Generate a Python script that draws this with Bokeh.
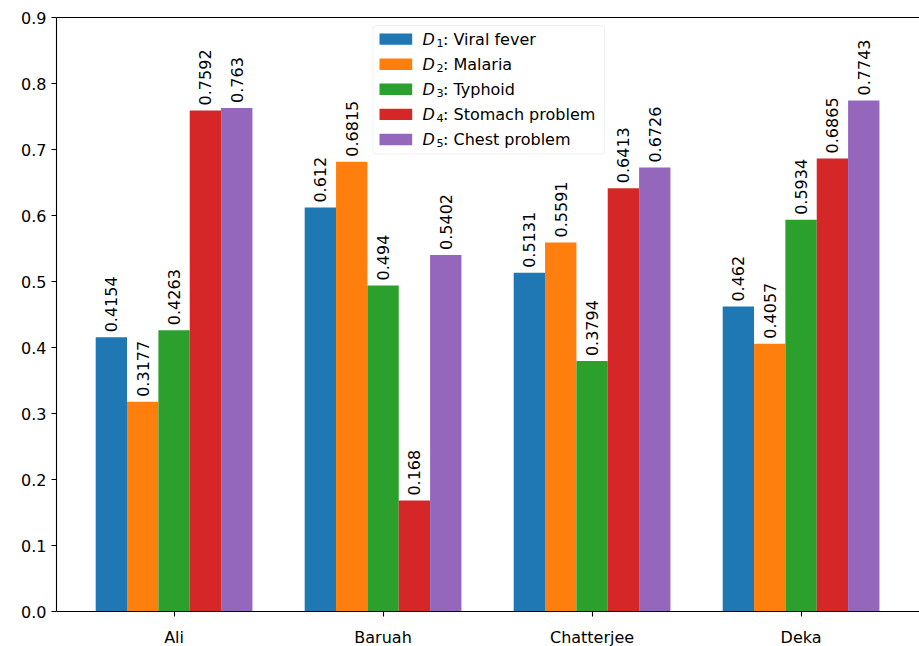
import numpy as np
from bokeh.plotting import figure
from bokeh.models import (ColumnDataSource, FixedTicker, Range1d, Label, BoxAnnotation,
                          PrintfTickFormatter, LinearAxis)
from bokeh.core.properties import value
from bokeh.embed import file_html
from bokeh.resources import INLINE

# ---------------- data ----------------
people = ["Ali", "Baruah", "Chatterjee", "Deka"]
disease_ids = ["1", "2", "3", "4", "5"]
disease_names = ["Viral fever", "Malaria", "Typhoid", "Stomach problem", "Chest problem"]
viral_fever = [0.4154, 0.612, 0.5131, 0.462]
malaria = [0.3177, 0.6815, 0.5591, 0.4057]
typhoid = [0.4263, 0.494, 0.3794, 0.5934]
stomach_problem = [0.7592, 0.168, 0.6413, 0.6865]
chest_problem = [0.763, 0.5402, 0.6726, 0.7743]
y_ticks = [0.0, 0.1, 0.2, 0.3, 0.4, 0.5, 0.6, 0.7, 0.8, 0.9]

series = [viral_fever, malaria, typhoid, stomach_problem, chest_problem]
colors = ["#1f77b4", "#ff7f0e", "#2ca02c", "#d62728", "#9467bd"]

FONT = "DejaVu Sans"
FS = "16px"

FL, FT, FW, FH = 56, 17, 863, 594
X0 = -0.5625
PPX = 209.0
X1 = X0 + FW / PPX

p = figure(frame_width=FW, frame_height=FH, output_backend="svg", toolbar_location=None,
           x_range=Range1d(X0, X1), y_range=Range1d(0, 0.9),
           min_border_left=FL, min_border_top=FT, min_border_right=0, min_border_bottom=35,
           background_fill_color="white", border_fill_color="white")
p.outline_line_color = None
p.xgrid.visible = False
p.ygrid.visible = False

bw = 0.15
group_x = np.arange(len(people))
for k, (vals, col) in enumerate(zip(series, colors)):
    xs = group_x + (k - 2) * bw
    src = ColumnDataSource(dict(x=xs, top=vals, txt=[str(v) for v in vals]))
    p.vbar(x="x", top="top", width=bw, source=src, fill_color=col, line_color=None)
    p.text(x="x", y="top", text="txt", source=src, angle=np.pi / 2,
           text_align="left", text_baseline="middle", y_offset=-5,
           text_font=value(FONT), text_font_size=FS, text_color="black")

# axes
for ax in (p.xaxis[0], p.yaxis[0]):
    ax.axis_line_color = "black"
    ax.axis_line_width = 1.1
    ax.major_tick_line_width = 1.1
    ax.major_tick_out = 5
    ax.major_tick_in = 0
    ax.minor_tick_out = 0
    ax.minor_tick_in = 0
    ax.major_label_text_font = FONT
    ax.major_label_text_font_size = FS
    ax.major_label_text_color = "black"

p.xaxis.ticker = FixedTicker(ticks=list(group_x))
p.xaxis.major_label_overrides = {int(i): n for i, n in zip(group_x, people)}
p.xaxis.major_label_standoff = 11
p.yaxis.ticker = FixedTicker(ticks=y_ticks)
p.yaxis.formatter = PrintfTickFormatter(format="%.1f")
p.yaxis.major_label_standoff = 5

top_ax = LinearAxis(ticker=FixedTicker(ticks=[]), axis_line_color="black", axis_line_width=1.1,
                    major_tick_out=0, minor_tick_out=0, major_label_standoff=0)
p.add_layout(top_ax, "above")

# ---------------- legend (manual, to get italic D with subscript) ----------------
def dx(px):
    return X0 + (px - FL) / PPX

def dy(py):
    return 0.9 * (FT + FH - py) / FH

p.add_layout(BoxAnnotation(left=dx(372.5), right=dx(604), top=dy(25), bottom=dy(153.5),
                           fill_color="white", fill_alpha=0.8, line_color="#cccccc",
                           line_width=1, border_radius=3))
row0, row_step = 38.6, 25.1
for k, (did, name, col) in enumerate(zip(disease_ids, disease_names, colors)):
    cy = row0 + k * row_step
    p.add_layout(BoxAnnotation(left=dx(379), right=dx(411.7), top=dy(cy - 5.7), bottom=dy(cy + 5.7),
                               fill_color=col, fill_alpha=1, line_color=None))
    p.add_layout(Label(x=dx(422), y=dy(cy), text="D", text_font=FONT, text_font_size=FS,
                       text_font_style="italic", text_baseline="middle", text_align="left",
                       text_color="black"))
    p.add_layout(Label(x=dx(436), y=dy(cy + 3.5), text=did, text_font=FONT, text_font_size="11.2px",
                       text_baseline="middle", text_align="left", text_color="black"))
    p.add_layout(Label(x=dx(442.5), y=dy(cy), text=": " + name, text_font=FONT, text_font_size=FS,
                       text_baseline="middle", text_align="left", text_color="black"))

open("out.html", "w").write(file_html(p, INLINE))
